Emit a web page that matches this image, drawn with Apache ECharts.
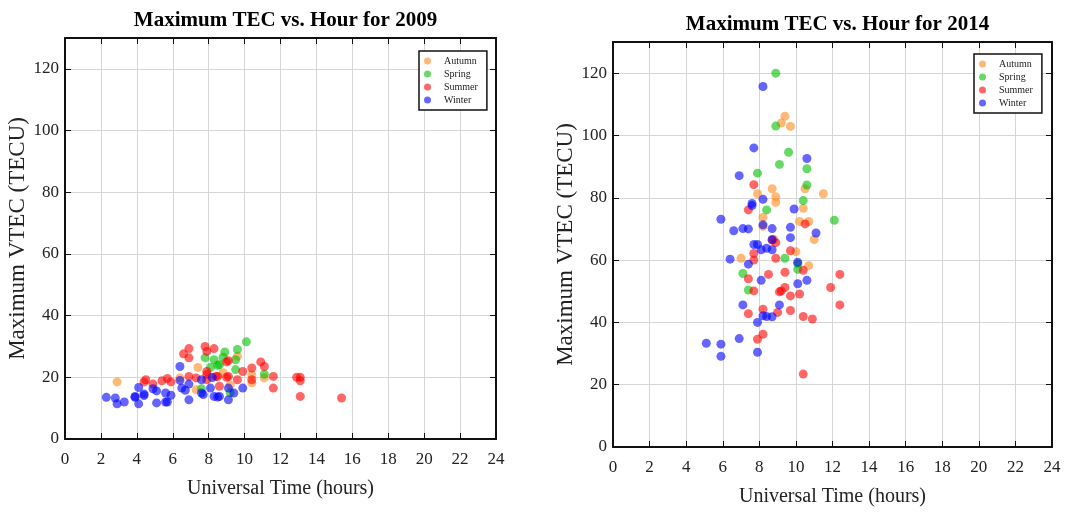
<!DOCTYPE html>
<html>
<head>
<meta charset="utf-8">
<script src="https://cdn.jsdelivr.net/npm/echarts@6/dist/echarts.min.js"></script>
<style>
  html, body { margin: 0; padding: 0; background: #fff; }
  #main { width: 1065px; height: 512px; }
</style>
</head>
<body>
<div id="main"></div>
<script>
// season names, same order in both panels
var seasons = ['Autumn', 'Spring', 'Summer', 'Winter'];
var seasonColors = ['#ff8a1a', '#00c000', '#ff0000', '#0000ff'];

// [universal time (hours), maximum VTEC (TECU)]
var autumn2009 = [[2.9,18.5],[7.4,23.2],[7.3,16],[6.4,19.8],[9.6,26.8],[10.4,18.2],[11.1,19.8],
  [10.4,20.8],[8.8,21.5],[9.2,17.5]];
var spring2009 = [[10.1,31.5],[8.9,28.2],[9.6,29],[9.5,25.7],[8.5,23.9],[11.1,21],[9.5,22.5],
  [7.8,26.3],[8.3,25.7],[8.6,24.1],[8.1,23.2],[8.8,26.5],[7.6,16.3],[9.2,15]];
var summer2009 = [[6.9,29.3],[6.6,27.6],[6.9,26.3],[7.8,30],[7.9,28.4],[8.3,29.3],[4.5,19.2],
  [4.4,18.5],[4.9,17.8],[5.4,18.9],[5.7,19.6],[5.9,18.5],[6.9,20.3],[7.3,19.8],[7.9,19.2],
  [7.9,20.9],[8.4,20.3],[8.6,17.1],[9.0,20],[9.0,25],[7.9,21.9],[9.1,25.4],[9.9,21.9],
  [10.4,23],[10.4,19.2],[10.9,25],[11.1,23.5],[11.6,20.3],[11.6,16.5],[12.9,20],[13.1,20],
  [13.1,18.9],[13.1,13.8],[15.4,13.3],[9.1,20.3],[9.6,19.2],[8.5,20.3]];
var winter2009 = [[2.3,13.5],[2.8,13.3],[2.9,11.4],[3.3,12],[3.9,13.5],[4.1,16.7],[4.4,14.1],
  [4.1,11.4],[4.9,16.3],[5.1,15.6],[5.1,11.7],[5.6,14.9],[5.7,12],[5.9,14.2],[6.4,23.5],
  [6.4,19],[6.5,16.5],[6.7,15.8],[6.9,12.7],[6.9,17.8],[7.7,14.4],[7.6,19.2],[8.1,16.5],
  [8.3,13.8],[8.6,13.8],[8.2,19.9],[9.1,16.5],[9.1,12.7],[9.9,16.5],[9.4,14.9],[8.5,13.6],
  [7.6,14.9],[3.9,13.8],[4.4,14.6],[5.6,12]];

// same for the 2014 panel
var autumn2014 = [[9.4,106.2],[9.2,104],[9.7,102.9],[8.7,82.9],[7.9,81.3],[8.9,80.3],[8.9,78.5],
  [10.5,82.9],[11.5,81.3],[10.4,76.6],[8.2,73.7],[10.2,72.4],[10.7,72.4],[11.0,66.6],
  [8.2,70.8],[8.8,66.6],[7.0,60.6],[10.0,62.7],[10.7,58.2]];
var spring2014 = [[8.9,120],[8.9,103],[9.6,94.6],[9.1,90.7],[10.6,89.3],[7.9,87.9],[10.6,84.1],
  [10.4,79.1],[8.4,76.1],[12.1,72.8],[9.4,60.6],[10.1,58.8],[10.1,57],[7.1,55.7],[7.4,50.4]];
var summer2014 = [[7.7,84.2],[7.4,76.1],[10.5,71.6],[8.9,65.6],[8.7,66.4],[9.7,63],[7.7,62.1],
  [7.7,60],[8.5,55.4],[9.4,56.1],[7.4,54],[7.7,50.1],[9.2,50.1],[9.7,48.5],[9.4,51.2],
  [10.2,49.1],[11.9,51.2],[12.4,55.4],[12.4,45.6],[7.4,42.8],[8.2,44.2],[9.0,43.2],[9.7,43.8],
  [10.4,41.9],[10.9,41.1],[7.9,34.6],[8.2,36.2],[10.4,23.4],[8.9,60.6],[10.4,56.7],[9.1,49.8]];
var winter2014 = [[8.2,115.7],[7.7,96],[10.6,92.6],[6.9,87.1],[7.6,78.2],[7.6,77.5],[8.2,79.5],
  [9.9,76.4],[5.9,73.1],[8.2,71.3],[6.6,69.4],[7.1,70.1],[7.4,70],[8.7,70.1],[9.7,70.5],
  [11.1,68.7],[9.7,67.2],[8.7,66.6],[7.7,65],[7.9,65],[8.4,63.8],[8.1,63.3],[8.7,63.3],
  [6.4,60.3],[7.4,58.7],[10.1,59.3],[10.1,52.4],[10.6,53.5],[8.1,53.5],[7.1,45.6],[9.1,45.6],
  [7.9,40],[8.2,42.1],[8.4,41.9],[8.7,41.8],[5.1,33.3],[5.9,33],[5.9,29.1],[6.9,34.8],[7.9,30.4]];

var panels = [
  { title: 'Maximum TEC vs. Hour for 2009', data: [autumn2009, spring2009, summer2009, winter2009],
    grid: { left: 65, top: 38, width: 431, height: 401 }, legend: { left: 419, top: 51 } },
  { title: 'Maximum TEC vs. Hour for 2014', data: [autumn2014, spring2014, summer2014, winter2014],
    grid: { left: 613, top: 42, width: 439, height: 411 }, legend: { left: 974, top: 54 } }
];

var font = "'Liberation Serif', 'Times New Roman', serif";

var option = {
  backgroundColor: '#fff',
  animation: false,
  title: [],
  grid: [],
  legend: [],
  xAxis: [],
  yAxis: [],
  series: []
};

panels.forEach(function (p, gi) {
  option.grid.push(p.grid);
  option.title.push({
    text: p.title,
    left: p.grid.left + p.grid.width / 2,
    top: p.grid.top - 33,
    textAlign: 'center',
    textStyle: { fontFamily: font, fontWeight: 'bold', fontSize: 21, color: '#000' }
  });
  // bottom x axis with labels
  option.xAxis.push({
    gridIndex: gi, type: 'value', min: 0, max: 24, interval: 2,
    name: 'Universal Time (hours)', nameLocation: 'middle', nameGap: 40,
    nameTextStyle: { fontFamily: font, fontSize: 20, color: '#222' },
    axisLine: { onZero: false, lineStyle: { color: '#111', width: 2 } },
    axisTick: { inside: true, length: 6, lineStyle: { color: '#111', width: 1 } },
    axisLabel: { fontFamily: font, fontSize: 17, color: '#222', margin: 12 },
    splitLine: { show: true, lineStyle: { color: '#d6d6d6', width: 1 } }
  });
  // top x axis, box edge only
  option.xAxis.push({
    gridIndex: gi, type: 'value', min: 0, max: 24, interval: 2, position: 'top',
    axisLine: { onZero: false, lineStyle: { color: '#111', width: 2 } },
    axisTick: { inside: true, length: 6, lineStyle: { color: '#111', width: 1 } },
    axisLabel: { show: false }, splitLine: { show: false }
  });
  option.yAxis.push({
    gridIndex: gi, type: 'value', min: 0, max: 130, interval: 20,
    name: 'Maximum VTEC (TECU)', nameLocation: 'middle', nameGap: 36,
    nameTextStyle: { fontFamily: font, fontSize: 23, color: '#222' },
    axisLine: { onZero: false, lineStyle: { color: '#111', width: 2 } },
    axisTick: { inside: true, length: 6, lineStyle: { color: '#111', width: 1 } },
    axisLabel: { fontFamily: font, fontSize: 17, color: '#222', margin: 6, showMaxLabel: false },
    splitLine: { show: true, lineStyle: { color: '#d6d6d6', width: 1 } }
  });
  option.yAxis.push({
    gridIndex: gi, type: 'value', min: 0, max: 130, interval: 20, position: 'right',
    axisLine: { onZero: false, lineStyle: { color: '#111', width: 2 } },
    axisTick: { inside: true, length: 6, lineStyle: { color: '#111', width: 1 } },
    axisLabel: { show: false }, splitLine: { show: false }
  });

  p.data.forEach(function (pts, si) {
    option.series.push({
      name: seasons[si],
      type: 'scatter',
      xAxisIndex: gi * 2,
      yAxisIndex: gi * 2,
      symbolSize: 9,
      itemStyle: { color: seasonColors[si], opacity: 0.6 },
      data: pts
    });
  });

  option.legend.push({
    orient: 'vertical',
    left: p.legend.left,
    top: p.legend.top,
    data: seasons,
    icon: 'circle',
    itemWidth: 23,
    itemHeight: 7,
    itemGap: 3,
    padding: [5, 9, 5, 5],
    borderColor: '#111',
    borderWidth: 1.5,
    backgroundColor: '#fff',
    selectedMode: false,
    textStyle: { fontFamily: font, fontSize: 10, color: '#222' }
  });
});

var chart = echarts.init(document.getElementById('main'));
chart.setOption(option);
</script>
</body>
</html>
